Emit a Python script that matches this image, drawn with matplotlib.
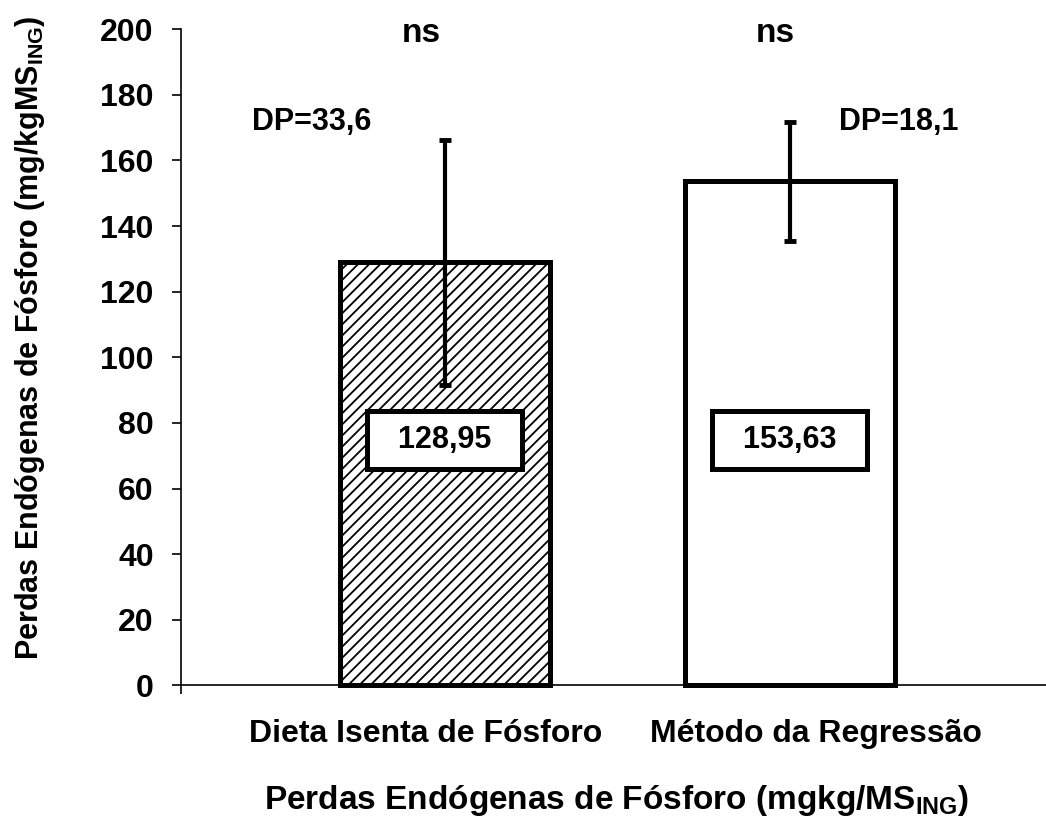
import matplotlib.pyplot as plt

# Data
categories = ["Dieta Isenta de Fósforo", "Método da Regressão"]
values = [128.95, 153.63]
err_bars = [37.4, 18.1]  # half-length of the drawn error bars
value_labels = ["128,95", "153,63"]
dp_labels = ["DP=33,6", "DP=18,1"]
sig_labels = ["ns", "ns"]
y_ticks = [0, 20, 40, 60, 80, 100, 120, 140, 160, 180, 200]

plt.rcParams['font.family'] = ['Liberation Sans', 'DejaVu Sans']
plt.rcParams['mathtext.fontset'] = 'custom'
plt.rcParams['mathtext.bf'] = 'Liberation Sans:bold'
plt.rcParams['mathtext.rm'] = 'Liberation Sans:bold'
plt.rcParams['hatch.linewidth'] = 1.3

fig = plt.figure(figsize=(10.46, 8.25), dpi=100)
ax = fig.add_axes([0.173, 0.1693, 0.827, 0.7952])

x = [0, 1]
bars = ax.bar(x, values, width=0.61, color='white', edgecolor='black',
              linewidth=3.6, zorder=2, clip_on=False)
bars[0].set_hatch('///')
ax.errorbar(x, values, yerr=err_bars, fmt='none', ecolor='black',
            elinewidth=3, capsize=4, capthick=3.5, zorder=3)

# value boxes inside bars
for xi, lab in zip(x, value_labels):
    ax.text(xi, 74.8, "  " + lab + "  ", ha='center', va='center',
            fontsize=22, fontweight='bold', zorder=4,
            bbox=dict(boxstyle='square,pad=0.45', fc='white', ec='black', lw=3.6))

# annotations
ax.text(-0.067, 196.2, sig_labels[0], ha='center', va='baseline', fontsize=24, fontweight='bold')
ax.text(0.957, 196.2, sig_labels[1], ha='center', va='baseline', fontsize=24, fontweight='bold')
ax.text(-0.387, 169.3, dp_labels[0], ha='center', va='baseline', fontsize=22, fontweight='bold')
ax.text(1.314, 169.3, dp_labels[1], ha='center', va='baseline', fontsize=22, fontweight='bold')

ax.set_ylim(0, 200)
ax.set_xlim(-0.765, 1.742)
ax.set_yticks(y_ticks)
ax.set_yticklabels([str(t) for t in y_ticks], fontsize=23, fontweight='bold')
ax.tick_params(axis='y', direction='out', length=6.5, width=1.2, pad=13)

# category labels, shifted a little like in the original
label_shift = [-0.055, 0.075]
ax.set_xticks([xi + s for xi, s in zip(x, label_shift)])
ax.set_xticklabels(categories, fontsize=23, fontweight='bold')
ax.tick_params(axis='x', which='major', length=0, pad=24)
ax.set_xticks([-0.765], minor=True)
ax.tick_params(axis='x', which='minor', direction='out', length=6.5, width=1.2)

ax.spines['top'].set_visible(False)
ax.spines['right'].set_visible(False)
for s in ['left', 'bottom']:
    ax.spines[s].set_linewidth(1.2)

ax.set_ylabel("Perdas Endógenas de Fósforo (mg/kgMS$_{\\mathbf{ING}}$)",
              fontsize=22, fontweight='bold', va='center')
ax.yaxis.set_label_coords(-0.1746, 0.53)
ax.set_xlabel("Perdas Endógenas de Fósforo (mgkg/MS$_{\\mathbf{ING}}$)",
              fontsize=24, fontweight='bold', va='center')
ax.xaxis.set_label_coords(0.504, -0.176)

fig.savefig("out.png", dpi=100)
